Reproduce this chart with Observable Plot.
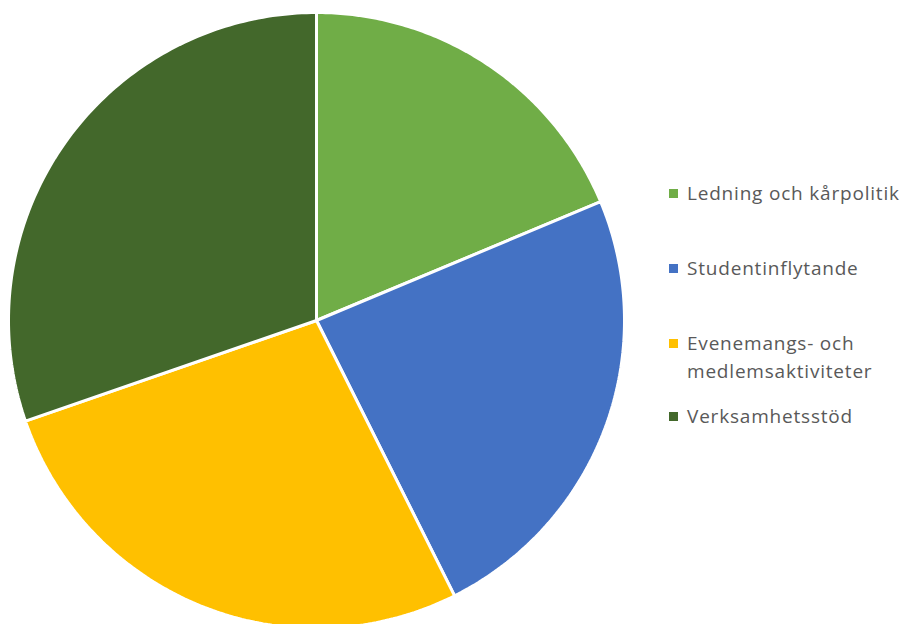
<!DOCTYPE html>
<html>
<head>
<meta charset="utf-8">
<script src="https://cdn.jsdelivr.net/npm/d3@7"></script>
<script src="https://cdn.jsdelivr.net/npm/@observablehq/plot@0.6"></script>
<style>
  html, body { margin: 0; padding: 0; background: #fff; }
  #wrap { position: relative; width: 904px; height: 624px; overflow: hidden; }
  #legend { position: absolute; left: 669px; top: 0; font-family: "Open Sans", sans-serif; font-size: 19px; letter-spacing: 0.8px; color: #595959; }
  .item { position: absolute; left: 0; white-space: nowrap; line-height: 28px; }
  .sw { position: absolute; left: 0; top: 10px; width: 9px; height: 9px; }
  .lbl { position: absolute; left: 18px; top: 0; }
</style>
</head>
<body>
<div id="wrap"><div id="chart"></div><div id="legend"></div></div>
<script>
const categories = ["Ledning och kårpolitik", "Studentinflytande", "Evenemangs- och medlemsaktiviteter", "Verksamhetsstöd"];
const legendLabels = [["Ledning och kårpolitik"], ["Studentinflytande"], ["Evenemangs- och", "medlemsaktiviteter"], ["Verksamhetsstöd"]];
const values = [18.7, 23.9, 27.1, 30.3];
const colors = ["#70AD47", "#4472C4", "#FFC000", "#43682B"];

const data = categories.map((c, i) => ({category: c, value: values[i]}));
const arcs = d3.pie().sort(null).value(d => d.value)(data);
const pts = [];
for (const a of arcs) {
  const cat = a.data.category;
  pts.push({category: cat, x: 0, y: 0});
  const n = 120;
  for (let k = 0; k <= n; k++) {
    const t = a.startAngle + (a.endAngle - a.startAngle) * k / n;
    pts.push({category: cat, x: Math.sin(t), y: Math.cos(t)});
  }
  pts.push({category: cat, x: 0, y: 0});
}

const chart = Plot.plot({
  width: 904,
  height: 624,
  margin: 0,
  x: {domain: [-1, 1], range: [8, 624], axis: null},
  y: {domain: [-1, 1], range: [628, 12], axis: null},
  color: {domain: categories, range: colors},
  marks: [
    Plot.line(pts, {x: "x", y: "y", z: "category", fill: "category", stroke: "white", strokeWidth: 3, strokeLinejoin: "miter", curve: "linear"})
  ]
});
chart.style.overflow = "hidden";
document.getElementById("chart").appendChild(chart);

const legendTops = [179, 254, 329, 402];
const legend = document.getElementById("legend");
legendLabels.forEach((lines, i) => {
  const item = document.createElement("div");
  item.className = "item";
  item.style.top = legendTops[i] + "px";
  const sw = document.createElement("div");
  sw.className = "sw";
  sw.style.background = colors[i];
  const lbl = document.createElement("div");
  lbl.className = "lbl";
  lbl.innerHTML = lines.join("<br>");
  item.appendChild(sw);
  item.appendChild(lbl);
  legend.appendChild(item);
});
</script>
</body>
</html>
